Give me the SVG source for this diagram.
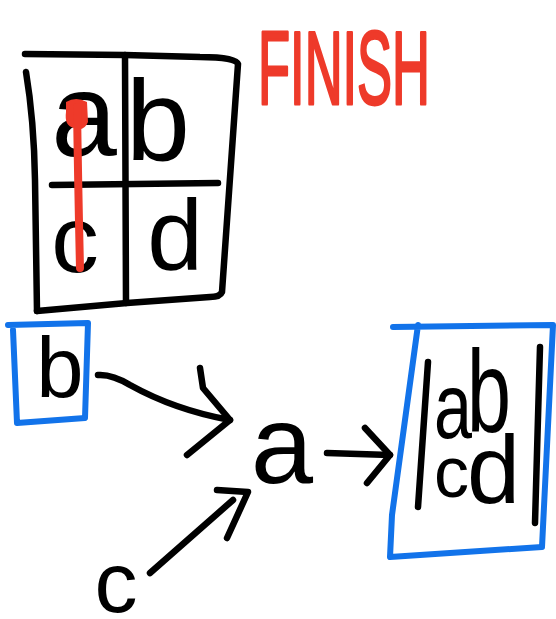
<svg xmlns="http://www.w3.org/2000/svg" width="556" height="619" viewBox="0 0 556 619">
  <style>
    .ink { fill: none; stroke: #000; stroke-width: 6.5; stroke-linecap: round; stroke-linejoin: round; }
    .blue { fill: none; stroke: #1273EA; stroke-width: 6; stroke-linecap: round; stroke-linejoin: round; }
    .red { fill: none; stroke: #EE3A2A; stroke-width: 8; stroke-linecap: round; stroke-linejoin: round; }
    .letter { font-family: "Liberation Sans", Arial, sans-serif; fill: #000; text-anchor: middle; }
    .packed { font-family: "Liberation Sans", Arial, sans-serif; fill: #000; }
    .title { font-family: "Liberation Sans", Arial, sans-serif; fill: #EE3A2A; stroke: #EE3A2A; stroke-width: 3; stroke-linejoin: round; }
  </style>
  <rect width="556" height="619" fill="#fff"/>

  <!-- 2x2 grid sketch -->
  <g id="grid">
    <path class="ink" d="M25,54 L125,55 L200,57 Q236,57 238,64 L222,292 Q220,297 210,297 L127,303 L37,311"/>
    <path class="ink" d="M26,72 Q34,120 35,180 L37,311"/>
    <path class="ink" d="M125,55 L126,303"/>
    <path class="ink" d="M52,185 L218,183"/>
    <text class="letter" x="84" y="156" font-size="118">a</text>
    <text class="letter" x="158" y="160" font-size="115">b</text>
    <text class="letter" x="75" y="272" font-size="95">c</text>
    <text class="letter" x="175" y="270" font-size="100">d</text>
    <path d="M66,102 Q76,96 87,102 L88,122 Q84,132 74,128 Q64,126 66,112 Z" fill="#EE3A2A"/>
    <path class="red" d="M77,107 Q78,180 80,268"/>
  </g>

  <!-- title -->
  <g id="finish">
    <text class="title" x="258" y="104" font-size="104" textLength="172" lengthAdjust="spacingAndGlyphs">FINISH</text>
  </g>

  <!-- source node b -->
  <g id="node-b">
    <path class="blue" d="M8,325 L88,323 L85,418 L17,423 L13,330"/>
    <text class="letter" x="60" y="397" font-size="85">b</text>
  </g>

  <!-- source node c -->
  <g id="node-c">
    <text class="letter" x="116" y="612" font-size="86">c</text>
  </g>

  <!-- middle node a -->
  <g id="node-a">
    <text class="letter" x="282" y="483" font-size="112">a</text>
  </g>

  <!-- result matrix -->
  <g id="node-matrix">
    <path class="blue" d="M393,327 L553,325 L542,547 L390,557 L392,515 L418,325"/>
    <path class="ink" d="M428,362 L418,507"/>
    <path class="ink" d="M540,347 L535,523"/>
    <text class="packed"><tspan x="434" y="438" font-size="92" textLength="38" lengthAdjust="spacingAndGlyphs">a</tspan><tspan x="467" y="432" font-size="116" textLength="44" lengthAdjust="spacingAndGlyphs">b</tspan><tspan x="434" y="497" font-size="72" textLength="35" lengthAdjust="spacingAndGlyphs">c</tspan><tspan x="467" y="503" font-size="96" textLength="53" lengthAdjust="spacingAndGlyphs">d</tspan></text>
  </g>

  <!-- connectors -->
  <g id="connectors">
    <path class="ink" d="M98,375 Q112,374 130,385 Q175,410 230,420"/>
    <path class="ink" d="M200,368 L203,388 L230,420 L187,455"/>
    <path class="ink" d="M150,573 L233,500"/>
    <path class="ink" d="M217,490 L248,492 L227,538"/>
    <path class="ink" d="M327,453 L390,455"/>
    <path class="ink" d="M365,428 L390,455 L367,483"/>
  </g>
</svg>
